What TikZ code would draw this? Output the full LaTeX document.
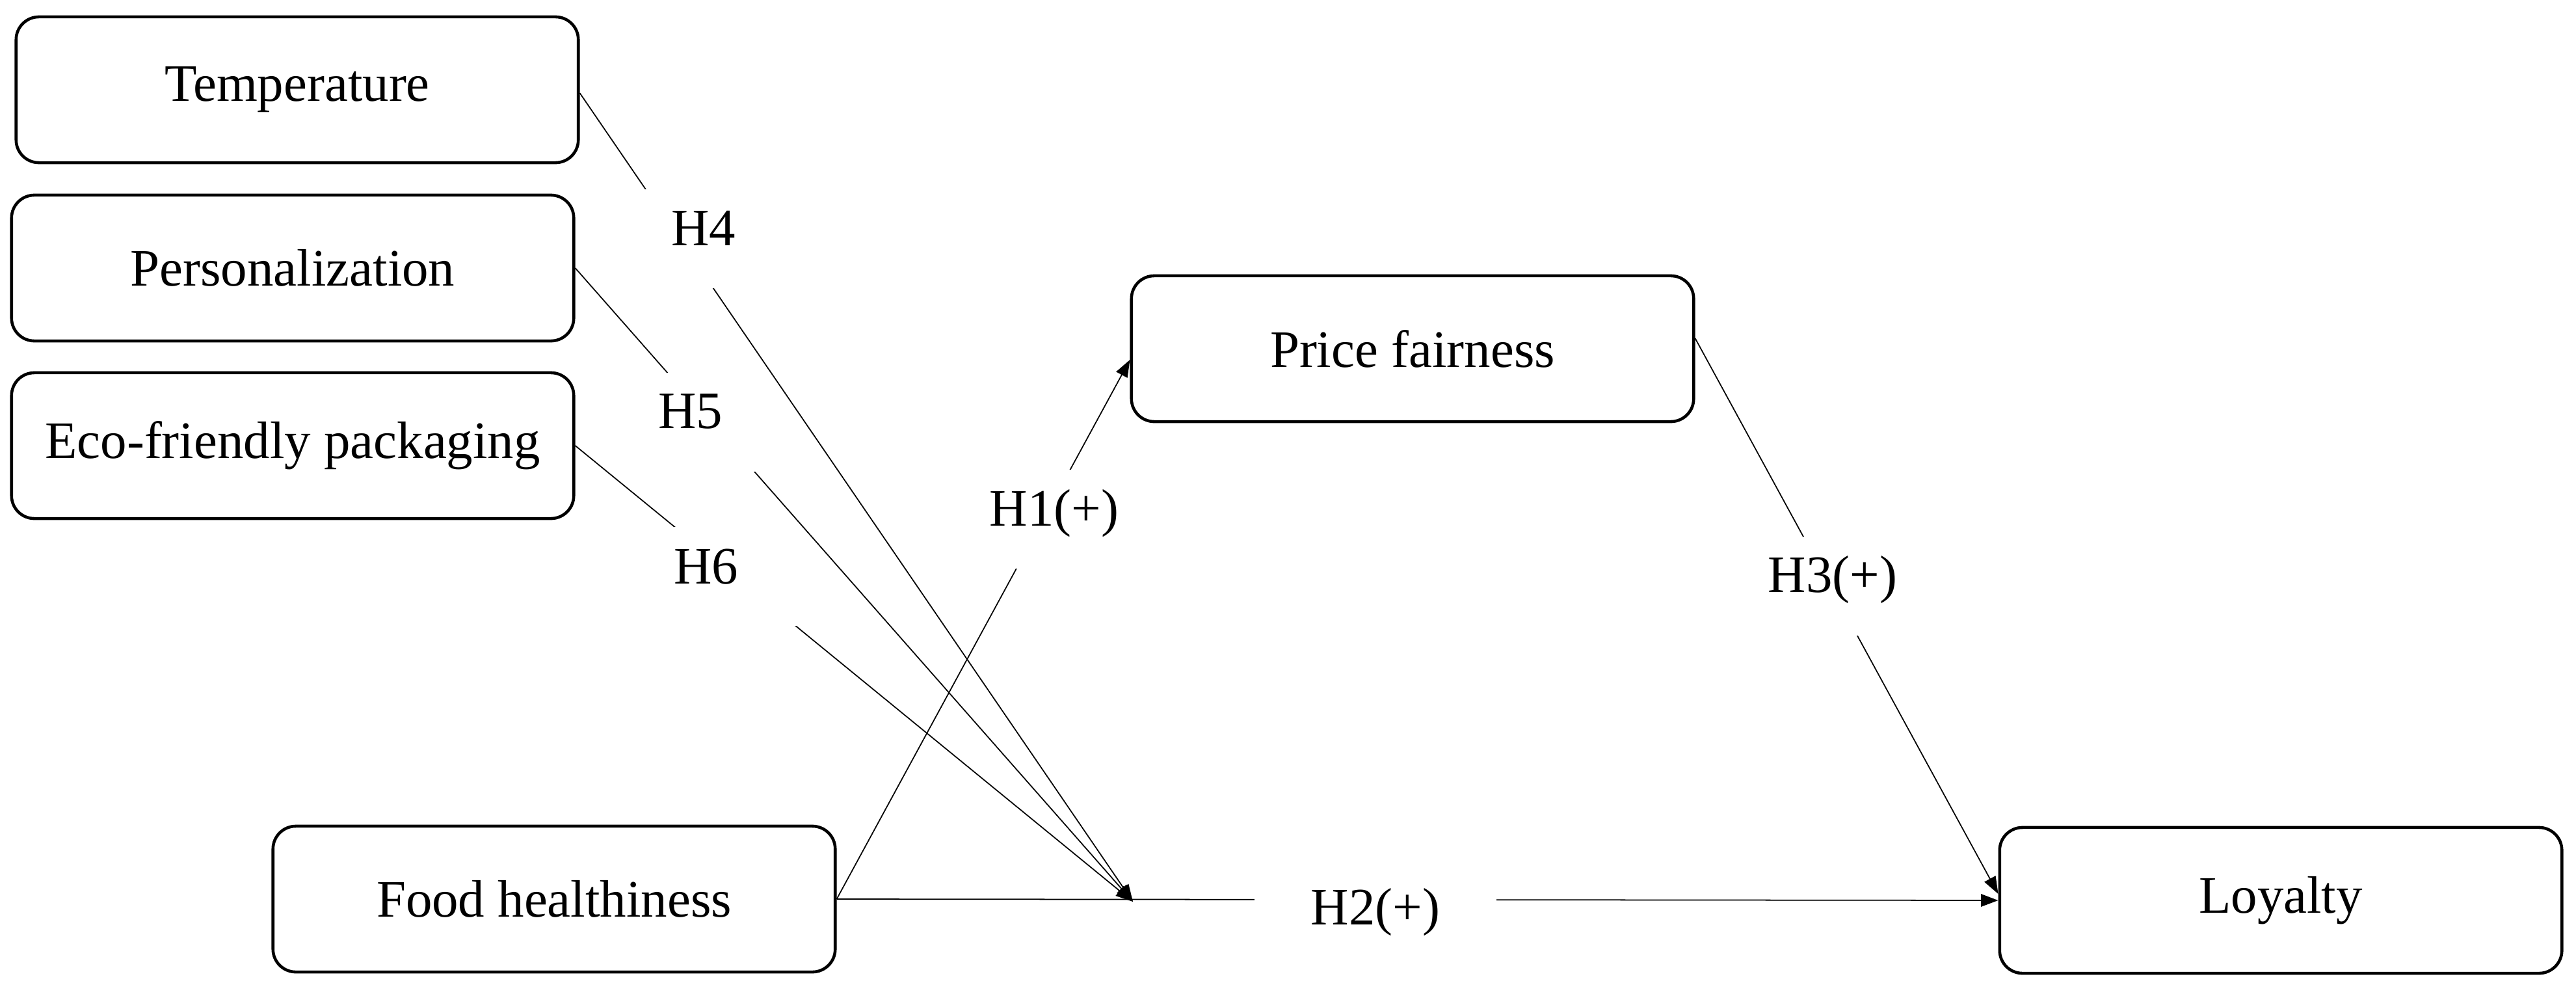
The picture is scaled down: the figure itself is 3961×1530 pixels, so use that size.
\documentclass[tikz,border=0pt]{standalone}
\usepackage{fontspec}
\setmainfont{Liberation Serif}
\usetikzlibrary{arrows.meta}
\begin{document}
\begin{tikzpicture}[x=0.01cm,y=-0.01cm,
  box/.style={draw, line width=1.3pt, rounded corners=10pt, minimum width=8.64cm, minimum height=2.24cm, inner sep=0pt, font=\fontsize{23}{27}\selectfont},
  conn/.style={line width=0.5pt, -{Triangle[length=7.5pt,width=5.5pt]}},
  gapbox/.style={fill=white, inner sep=0pt, minimum height=1.52cm},
  lbl/.style={anchor=base, inner sep=0pt, font=\fontsize{23}{27}\selectfont}]
\useasboundingbox (0,0) rectangle (3961,1530);

\node[box] (temp) at (457,138) {Temperature};
\node[box] (pers) at (450,412) {Personalization};
\node[box] (eco) at (450,685) {Eco-friendly packaging};
\node[box] (price) at (2172,536) {Price fairness};
\node[box] (food) at (852,1382) {Food healthiness};
\node[box] (loy) at (3507,1384) {Loyalty};

\coordinate (conv) at (1742,1386);

\draw[conn] ([yshift=-0.05cm]temp.east) -- (conv);
\draw[conn] (pers.east) -- (conv);
\draw[conn] (eco.east) -- (conv);
\draw[conn] (food.east) -- ([yshift=-0.17cm]price.west);
\draw[conn] (food.east) -- (loy.west);
\draw[conn] ([yshift=0.16cm]price.east) -- ([yshift=0.1cm]loy.west);

\node[gapbox, minimum width=2.40cm] (g4) at (1082,367) {};
\node[lbl] (h4) at (1082,377) {H4};
\node[gapbox, minimum width=2.30cm] (g5) at (1062,649) {};
\node[lbl] (h5) at (1062,658) {H5};
\node[gapbox, minimum width=2.84cm] (g6) at (1086,886) {};
\node[lbl] (h6) at (1086,897) {H6};
\node[gapbox, minimum width=3.00cm] (g1) at (1621,798) {};
\node[lbl] (h1) at (1621,808) {H1(+)};
\node[gapbox, minimum width=3.71cm] (g2) at (2115,1411) {};
\node[lbl] (h2) at (2115,1421) {H2(+)};
\node[gapbox, minimum width=3.00cm] (g3) at (2818,901) {};
\node[lbl] (h3) at (2818,910) {H3(+)};
\end{tikzpicture}
\end{document}
